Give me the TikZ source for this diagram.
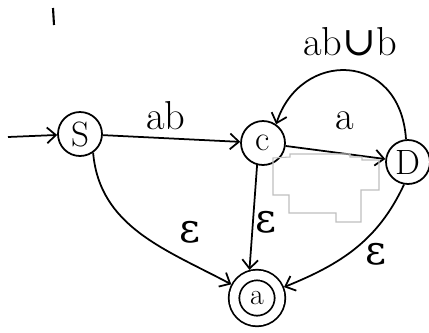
\documentclass[tikz,border=0pt]{standalone}
\usepackage{fontspec}
\newfontfamily\grk{DejaVu Serif}
\usetikzlibrary{arrows.meta}

\begin{document}
\begin{tikzpicture}[
    x=0.02cm,
    y=-0.02cm,
    >={Straight Barb[length=5pt,width=9pt]},
    state/.style={
        draw,
        circle,
        line width=1pt,
        minimum size=0.88cm,
        inner sep=0pt,
        font=\fontsize{20}{22}\selectfont
    },
    accept/.style={
        state,
        double,
        double distance=5pt,
        minimum size=0.92cm,
        outer sep=3.5pt,
        font=\fontsize{17}{19}\selectfont
    },
    edge/.style={
        ->,
        line width=1pt
    },
    lbl/.style={
        font=\fontsize{23}{25}\selectfont
    }
]
    \useasboundingbox (0,0) rectangle (429,332);

    \node[state] (s) at (80,134) {S};
    \node[state] (c) at (263,143) {c};
    \node[state] (d) at (408,162) {D};
    \node[accept] (acc) at (257,298) {a};

    \coordinate (init) at (8,137);

    \draw[edge] (init) -- (s);

    \draw[edge] (s) -- (c);
    \node[lbl] (lab) at (166,116) {ab};

    \draw[edge] (c) -- (d);
    \node[lbl] (la) at (345,121) {a};

    \draw[edge] (d.95) .. controls (400,50) and (300,50) .. (c.55);
    \node[lbl] (laub) at (350,42) {ab{\grk ∪}b};

    \draw[edge] (s.-55) to[out=-85, in=152] (acc);
    \node[lbl] (le1) at (190,232) {\grk ε};

    \draw[edge] (c.-105) -- (acc.105);
    \node[lbl] (le2) at (266,222) {\grk ε};

    \draw[edge] (d.-100) to[out=-115, in=22] (acc);
    \node[lbl] (le3) at (376,254) {\grk ε};

    % stray pen mark and faint outline
    \draw[line width=1.2pt] (53,8) -- (54,25);
    \draw[gray!50, line width=0.6pt]
        (273,158) -- (273,195) -- (289,195) -- (289,213) -- (336,213)
        -- (336,222) -- (361,222) -- (361,190) -- (379,190) -- (379,160)
        -- (362,160) -- (362,157) -- (350,157) -- (350,154) -- (290,154)
        -- (290,157) -- cycle;

\end{tikzpicture}
\end{document}
